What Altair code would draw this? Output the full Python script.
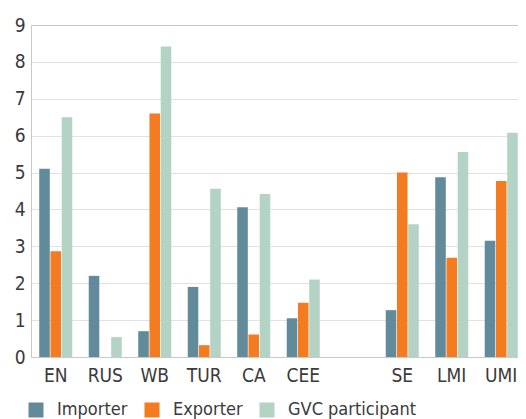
import altair as alt
import pandas as pd

categories = ["EN", "RUS", "WB", "TUR", "CA", "CEE", "SE", "LMI", "UMI"]
domain_order = ["EN", "RUS", "WB", "TUR", "CA", "CEE", " ", "SE", "LMI", "UMI"]
series = ["Importer", "Exporter", "GVC participant"]
importer = [5.1, 2.2, 0.7, 1.9, 4.06, 1.05, 1.27, 4.87, 3.15]
exporter = [2.87, 0.0, 6.6, 0.32, 0.61, 1.47, 5.0, 2.69, 4.77]
gvc = [6.5, 0.54, 8.42, 4.56, 4.42, 2.1, 3.6, 5.56, 6.08]
colors = ["#618b9b", "#f47b20", "#b3d3c5"]

rows = []
for i, c in enumerate(categories):
    for s, vals in zip(series, [importer, exporter, gvc]):
        rows.append({"region": c, "series": s, "value": vals[i]})
df = pd.DataFrame(rows)

font = "DejaVu Sans Condensed, Roboto, sans-serif"

chart = alt.Chart(df).mark_bar().encode(
    x=alt.X("region:N", sort=domain_order,
            scale=alt.Scale(domain=domain_order, range=[0, 495],
                            paddingInner=0.333, paddingOuter=0.1665),
            axis=alt.Axis(title=None, labelAngle=0, ticks=False,
                          labelFontSize=19, labelFont=font, labelColor="#3a3a3a",
                          labelPadding=9, domainColor="#c8c8c8")),
    xOffset=alt.XOffset("series:N", sort=series,
                        scale=alt.Scale(paddingInner=0.06)),
    y=alt.Y("value:Q", scale=alt.Scale(domain=[0, 9]),
            axis=alt.Axis(title=None, values=list(range(10)), ticks=False,
                          labelFontSize=19, labelFont=font, labelColor="#3a3a3a",
                          labelPadding=6, domainColor="#c8c8c8",
                          gridColor=alt.condition("datum.value == 9",
                                                  alt.value("#c8c8c8"),
                                                  alt.value("#e2e2e2")))),
    color=alt.Color("series:N", sort=series,
                    scale=alt.Scale(domain=series, range=colors),
                    legend=alt.Legend(title=None, orient="none", direction="horizontal",
                                      legendX=-4, legendY=376,
                                      symbolType="square", symbolSize=225,
                                      symbolStrokeWidth=0, symbolOpacity=1,
                                      labelFontSize=18, labelFont=font,
                                      labelColor="#3a3a3a", columnPadding=15,
                                      labelOffset=12)),
).properties(
    width=487, height=332,
    autosize=alt.AutoSizeParams(type="none"),
    padding={"left": 23, "top": 17, "right": 0, "bottom": 62},
).configure_view(strokeWidth=0)

chart.save("out.html", embed_options={"renderer": "svg", "actions": False})
